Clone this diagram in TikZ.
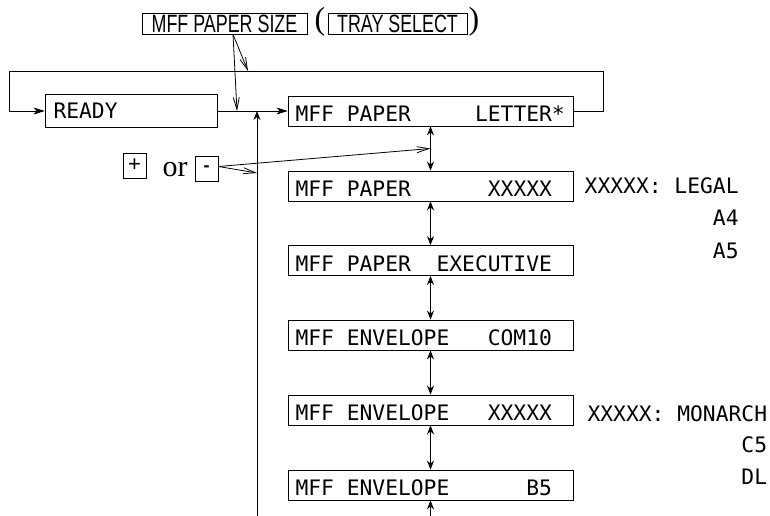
\documentclass[tikz,border=0pt]{standalone}
\usepackage{fontspec}
\setmonofont{DejaVu Sans Mono}
\newfontfamily\condsans[FakeStretch=0.715]{Liberation Sans}
\newfontfamily\serifrm{Liberation Serif}
\newfontfamily\plainsans{Liberation Sans}
\newcommand\gap{\hphantom{X}}
\usetikzlibrary{arrows.meta,calc}
\begin{document}
\begin{tikzpicture}[x=1pt,y=-1pt,line width=0.8pt,
  lcd/.style={draw, inner xsep=7.5pt, inner ysep=0pt, text width=270pt, align=left,
    text height=25.5pt, text depth=4.5pt, font=\ttfamily\fontsize{21.3}{25}\selectfont},
  keybox/.style={draw, inner sep=0pt, minimum height=21pt, font=\condsans\fontsize{25}{26}\selectfont},
  paren/.style={inner sep=0pt, font=\serifrm\fontsize{32}{34}\selectfont},
  rt/.style={inner sep=0pt, anchor=base east, font=\ttfamily\fontsize{21.3}{25}\selectfont},
  small/.style={draw, inner sep=0pt, minimum width=23pt, minimum height=25pt},
  fa/.style={-{Stealth[length=11pt,width=7pt,inset=3pt]}},
  da/.style={{Stealth[length=9pt,width=7pt,inset=3pt]}-{Stealth[length=9pt,width=7pt,inset=3pt]}},
  ua/.style={-{Stealth[length=9pt,width=7pt,inset=3pt]}},
  oa/.style={-{Straight Barb[length=12pt,width=6pt]}}]
\useasboundingbox (0,0) rectangle (770,516);

% top keys
\node[keybox, minimum width=165pt] (ps) at (224.5,23.5) {MFF PAPER SIZE};
\node[paren] (lp) at (320,22) {(};
\node[keybox, minimum width=139pt] (ts) at (397.5,23.5) {TRAY SELECT};
\node[paren] (rp) at (474,22) {)};

% ready
\node[lcd, text width=155pt, inner xsep=8.5pt, text height=24pt, text depth=9pt] (ready) at (131,111) {READY};

% menu boxes
\node[lcd] (m1) at (430.5,111) {MFF\gap PAPER\gap\gap\gap\gap\gap LETTER*};
\node[lcd] (m2) at (430.5,186) {MFF\gap PAPER\gap\gap\gap\gap\gap\gap XXXXX};
\node[lcd] (m3) at (430.5,260.5) {MFF\gap PAPER\gap\gap EXECUTIVE};
\node[lcd] (m4) at (430.5,335) {MFF\gap ENVELOPE\gap\gap\gap COM10};
\node[lcd] (m5) at (430.5,410) {MFF\gap ENVELOPE\gap\gap\gap XXXXX};
\node[lcd] (m6) at (430.5,485) {MFF\gap ENVELOPE\gap\gap\gap\gap\gap\gap B5};

% right labels
\node[rt] (r1) at (739,193) {XXXXX:\gap LEGAL};
\node[rt] (r2) at (739,225) {A4};
\node[rt] (r3) at (739,258) {A5};
\node[rt] (r4) at (767.5,421) {XXXXX:\gap MONARCH};
\node[rt] (r5) at (767.5,452) {C5};
\node[rt] (r6) at (767.5,484) {DL};

% plus / minus
\node[small, font=\plainsans\fontsize{22}{24}\selectfont] (plus) at (134.5,165.5) {+};
\node[inner sep=0pt, anchor=base, font=\serifrm\fontsize{30}{32}\selectfont] (or) at (175,176) {or};
\node[small, font=\plainsans\bfseries\fontsize{18}{20}\selectfont] (minus) at (206.5,168.5) {-};

% coordinates
\coordinate (tr) at (603,71);
\coordinate (tl) at (9,71);
\coordinate (a1) at (248,71);
\coordinate (a2) at (237,111);
\coordinate (vb) at (257,516);
\coordinate (vt) at (257,111);
\coordinate (mB) at (257,173);
\coordinate (mA) at ($(m1.south)!0.5!(m2.north)$);
\coordinate (ps0) at ([xshift=8.5pt]ps.south);
\coordinate (mn0) at ([yshift=2pt]minus.east);

% connectors
\draw[fa] (m1.east) -| (tr) -- (tl) |- (ready.west);
\draw[fa] (ready.east) -- (m1.west);
\draw[ua] (vb) -- (vt);
\draw[oa] (ps0) -- (a1);
\draw[oa] (ps0) -- (a2);
\draw[oa] (mn0) -- (mA);
\draw[oa] (mn0) -- (mB);
\draw[da] (m1.south) -- (m2.north);
\draw[da] (m2.south) -- (m3.north);
\draw[da] (m3.south) -- (m4.north);
\draw[da] (m4.south) -- (m5.north);
\draw[da] (m5.south) -- (m6.north);
\draw[ua] (m6.south |- vb) -- (m6.south);
\end{tikzpicture}
\end{document}
